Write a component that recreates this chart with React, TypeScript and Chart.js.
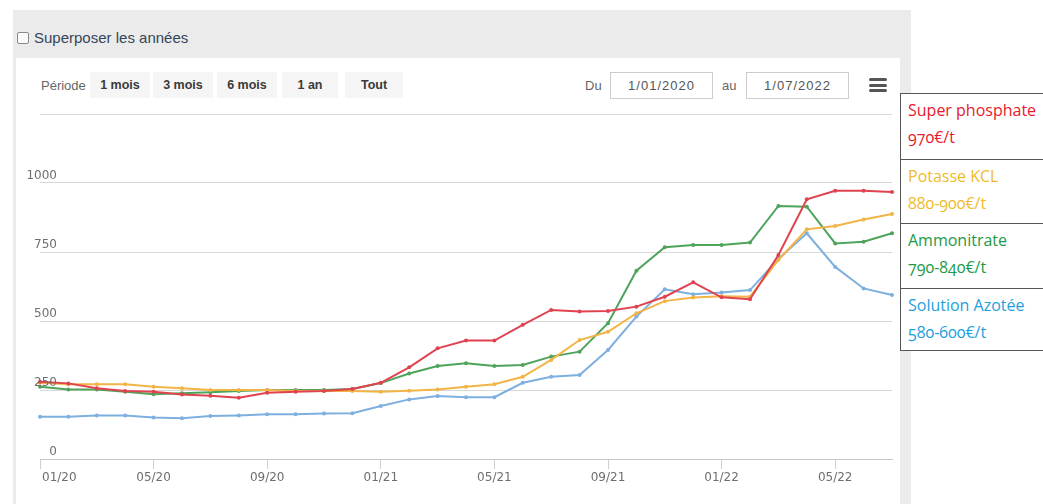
import React, { useEffect, useRef } from 'react';
import { Chart, registerables } from 'chart.js';

Chart.register(...registerables);

const months = [
  '01/20', '02/20', '03/20', '04/20', '05/20', '06/20', '07/20', '08/20', '09/20', '10/20', '11/20', '12/20',
  '01/21', '02/21', '03/21', '04/21', '05/21', '06/21', '07/21', '08/21', '09/21', '10/21', '11/21', '12/21',
  '01/22', '02/22', '03/22', '04/22', '05/22', '06/22', '07/22',
];

const shownTicks = ['01/20', '05/20', '09/20', '01/21', '05/21', '09/21', '01/22', '05/22'];

const superPhosphate = [280, 274, 256, 246, 244, 234, 229, 222, 240, 244, 246, 254, 276, 332, 401, 429, 429, 486, 540, 534, 536, 552, 588, 640, 586, 579, 739, 941, 972, 972, 967];
const potasseKCL = [276, 271, 271, 271, 262, 256, 250, 250, 250, 246, 246, 246, 244, 247, 252, 262, 271, 298, 359, 431, 461, 528, 572, 585, 590, 588, 721, 832, 844, 868, 888];
const ammonitrate = [262, 252, 252, 244, 235, 238, 242, 246, 250, 250, 250, 254, 275, 310, 337, 347, 337, 341, 371, 389, 492, 682, 767, 775, 775, 784, 917, 914, 781, 787, 818];
const solutionAzotee = [153, 153, 158, 158, 150, 148, 156, 158, 162, 162, 165, 166, 192, 216, 228, 224, 224, 276, 298, 304, 395, 516, 615, 597, 603, 612, 725, 818, 696, 618, 594];

const yTickValues = [0, 250, 500, 750, 1000];
const yTickLabels = ['0', '250', '500', '750', '1000'];

const periodButtons = ['1 mois', '3 mois', '6 mois', '1 an', 'Tout'];

const legendItems = [
  { name: 'Super phosphate', price: '970€/t', color: '#e8192c' },
  { name: 'Potasse KCL', price: '880-900€/t', color: '#f0bb2a' },
  { name: 'Ammonitrate', price: '790-840€/t', color: '#1c9a47' },
  { name: 'Solution Azotée', price: '580-600€/t', color: '#1ea0dc' },
];

const labelPlugin = {
  id: 'axisLabels',
  afterDraw(chart: any) {
    const { ctx } = chart;
    const x = chart.scales.x;
    const y = chart.scales.y;
    ctx.save();
    ctx.font = '12px "DejaVu Sans"';
    ctx.fillStyle = '#6e6e6e';
    ctx.textBaseline = 'middle';
    months.forEach((m, i) => {
      if (!shownTicks.includes(m)) return;
      const px = x.getPixelForTick(i);
      ctx.textAlign = i === 0 ? 'left' : 'center';
      ctx.fillText(m, i === 0 ? px + 2 : px, x.top + 19);
    });
    ctx.textAlign = 'right';
    yTickValues.forEach((v, i) => {
      const py = y.getPixelForValue(v);
      ctx.fillText(yTickLabels[i], chart.chartArea.left + 17, py - 7);
    });
    ctx.restore();
  },
};

function LineChart() {
  const ref = useRef<HTMLCanvasElement | null>(null);
  useEffect(() => {
    if (!ref.current) return;
    const mk = (label: string, data: number[], color: string) => ({
      label,
      data,
      borderColor: color,
      backgroundColor: color,
      borderWidth: 2,
      pointRadius: 2,
      pointBorderWidth: 0,
      pointBackgroundColor: color,
      tension: 0,
      fill: false,
    });
    const chart = new Chart(ref.current, {
      type: 'line',
      data: {
        labels: months,
        datasets: [
          mk('Super phosphate', superPhosphate, '#e0434f'),
          mk('Potasse KCL', potasseKCL, '#f2b446'),
          mk('Ammonitrate', ammonitrate, '#4ea45a'),
          mk('Solution Azotée', solutionAzotee, '#7db0de'),
        ],
      },
      options: {
        responsive: false,
        animation: false,
        layout: { padding: { top: 14, right: 20, left: 0, bottom: 0 } },
        plugins: { legend: { display: false }, tooltip: { enabled: false } },
        scales: {
          x: {
            type: 'category',
            offset: false,
            afterFit: (s: any) => { s.height = 45; },
            ticks: { display: false, autoSkip: false },
            grid: {
              drawOnChartArea: false,
              drawTicks: true,
              tickLength: 10,
              color: (c: any) => (c.index % 4 === 0 ? '#cfcfcf' : 'rgba(0,0,0,0)'),
            },
            border: { display: true, color: '#c8c8c8', width: 1 },
          },
          y: {
            min: 0,
            max: 1250,
            afterFit: (s: any) => { s.width = 40; },
            ticks: { stepSize: 250, display: false },
            grid: { color: '#d8d8d8', lineWidth: 1, drawTicks: false },
            border: { display: false },
          },
        },
      },
      plugins: [labelPlugin],
    });
    return () => chart.destroy();
  }, []);
  return <canvas ref={ref} width={912} height={404} style={{ position: 'absolute', left: 0, top: 100, width: 912, height: 404 }} />;
}

export default function App() {
  const sans = '"Liberation Sans", Arial, sans-serif';
  return (
    <div style={{ position: 'absolute', left: 0, top: 0, width: 1043, height: 504, overflow: 'hidden', background: '#ffffff', fontFamily: sans }}>
      <div style={{ position: 'absolute', left: 13, top: 10, width: 898, height: 494, background: '#ebebeb' }} />
      <div style={{ position: 'absolute', left: 17, top: 32, width: 10, height: 10, border: '1px solid #8a8a8a', borderRadius: 2, background: '#fafafa' }} />
      <div style={{ position: 'absolute', left: 34, top: 28, fontSize: 15, color: '#34465a', lineHeight: '20px' }}>Superposer les années</div>
      <div style={{ position: 'absolute', left: 16, top: 58, width: 884, height: 446, background: '#ffffff' }} />
      <div style={{ position: 'absolute', left: 41, top: 77, fontSize: 13, color: '#666', lineHeight: '18px' }}>Période</div>
      {periodButtons.map((b, i) => {
        const lefts = [90, 153, 217, 282, 345];
        const widths = [60, 60, 60, 56, 58];
        return (
          <div key={b} style={{ position: 'absolute', left: lefts[i], top: 72, width: widths[i], height: 26, background: '#f5f5f5', color: '#3a3a3a', fontSize: 12.5, fontWeight: 'bold', textAlign: 'center', lineHeight: '26px' }}>{b}</div>
        );
      })}
      <div style={{ position: 'absolute', left: 585, top: 77, fontSize: 13, color: '#666', lineHeight: '18px' }}>Du</div>
      <div style={{ position: 'absolute', left: 610, top: 72, width: 101, height: 25, border: '1px solid #cccccc', color: '#555', fontSize: 13, letterSpacing: 1, textAlign: 'center', lineHeight: '25px' }}>1/01/2020</div>
      <div style={{ position: 'absolute', left: 722, top: 77, fontSize: 13, color: '#666', lineHeight: '18px' }}>au</div>
      <div style={{ position: 'absolute', left: 746, top: 72, width: 101, height: 25, border: '1px solid #cccccc', color: '#555', fontSize: 13, letterSpacing: 1, textAlign: 'center', lineHeight: '25px' }}>1/07/2022</div>
      {[0, 1, 2].map((k) => (
        <div key={k} style={{ position: 'absolute', left: 869, top: 78 + k * 5.5, width: 18, height: 3, borderRadius: 1.5, background: '#555' }} />
      ))}
      <LineChart />
      <div style={{ position: 'absolute', left: 900, top: 93, width: 160, height: 258, background: '#fff', border: '1.5px solid #555', boxSizing: 'border-box' }}>
        {legendItems.map((it, i) => (
          <div key={it.name} style={{ height: 64.5, boxSizing: 'border-box', borderTop: i === 0 ? 'none' : '1.5px solid #555', padding: '3px 0 0 7px', color: it.color, fontFamily: '"Open Sans", "Noto Sans", sans-serif', fontSize: 16, lineHeight: '27px', fontVariantNumeric: 'oldstyle-nums', whiteSpace: 'nowrap' }}>
            <div>{it.name}</div>
            <div>{it.price}</div>
          </div>
        ))}
      </div>
    </div>
  );
}
